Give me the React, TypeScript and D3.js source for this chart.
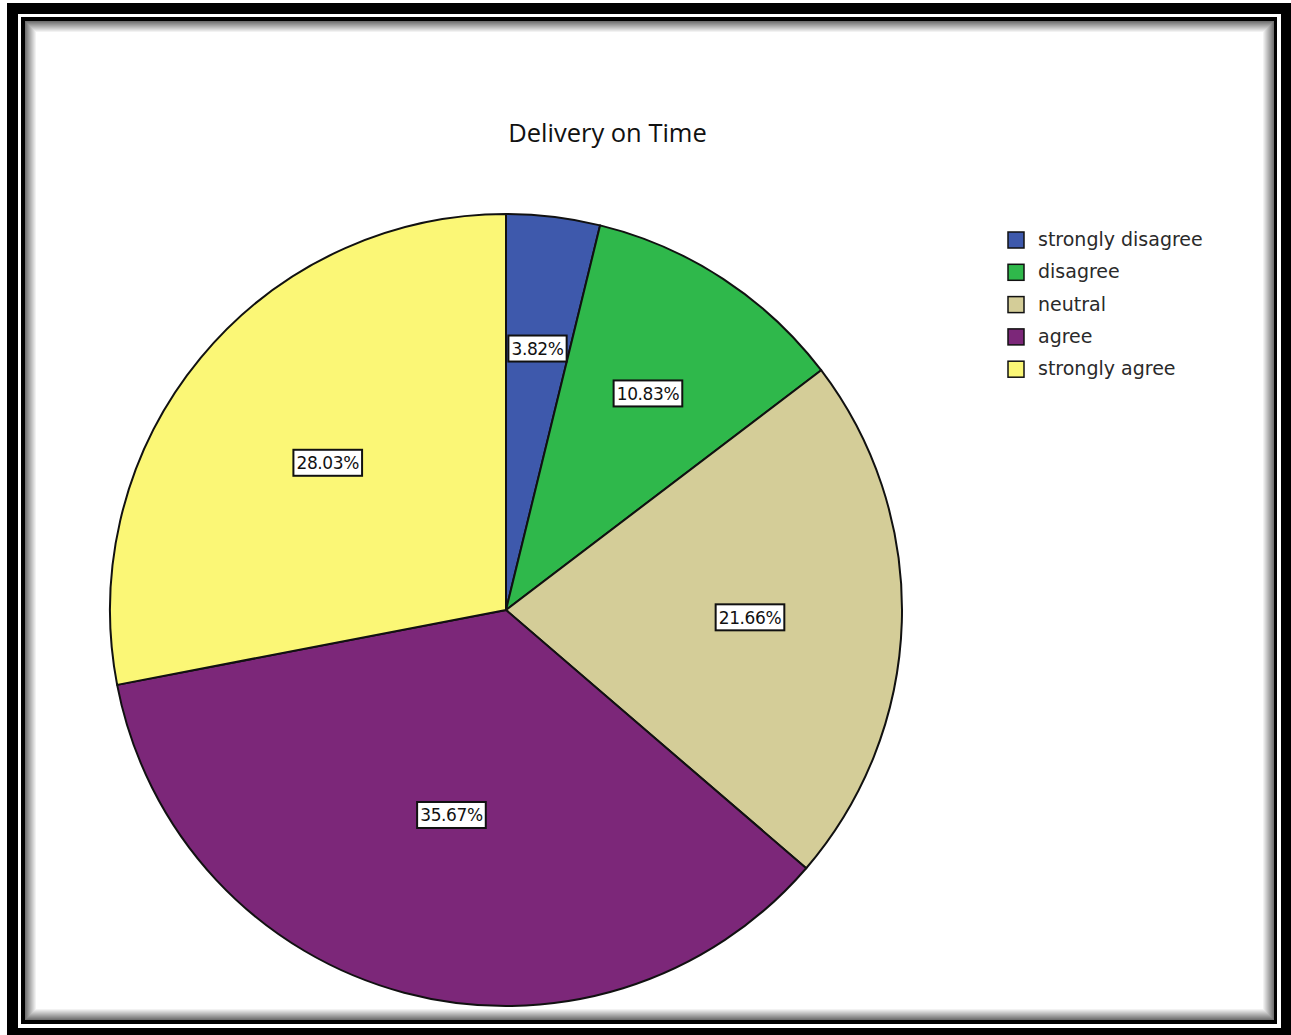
import React, { useEffect, useRef } from 'react';
import * as d3 from 'd3';

// slice data, clockwise from 12 o'clock
const categories = ['strongly disagree', 'disagree', 'neutral', 'agree', 'strongly agree'];
const percents = [3.82, 10.83, 21.66, 35.67, 28.03];
const colors = ['#3e59ac', '#2fb84b', '#d4cd98', '#7c2779', '#fbf776'];
const title = 'Delivery on Time';

const W = 1291;
const H = 1035;

function App() {
  const ref = useRef<SVGSVGElement>(null);

  useEffect(() => {
    const svg = d3.select(ref.current);
    svg.selectAll('*').remove();

    // frame: thick outer border, thin inner border, soft inner shadow
    svg.append('rect').attr('x', 7).attr('y', 3).attr('width', W - 7).attr('height', H - 3).attr('fill', '#000');
    svg.append('rect').attr('x', 18).attr('y', 14).attr('width', 1281 - 18).attr('height', 1028 - 14).attr('fill', '#fff');
    svg.append('rect').attr('x', 21).attr('y', 17).attr('width', 1277 - 21).attr('height', 1024 - 17).attr('fill', '#000');
    svg.append('rect').attr('x', 25).attr('y', 21).attr('width', 1274 - 25).attr('height', 1020 - 21).attr('fill', '#fff');
    var shade = d3.scaleLinear<string>().domain([0, 11]).range(['#707070', '#ffffff']);
    for (var i = 0; i < 11; i++) {
      svg.append('rect')
        .attr('x', 25.5 + i).attr('y', 21.5 + i)
        .attr('width', 1274 - 25 - 1 - 2 * i).attr('height', 1020 - 21 - 1 - 2 * i)
        .attr('fill', 'none').attr('stroke', shade(i)).attr('stroke-width', 1);
    }

    svg.append('text')
      .attr('x', 607.5).attr('y', 142)
      .attr('text-anchor', 'middle')
      .attr('font-family', 'Open Sans, sans-serif')
      .attr('font-size', 25.5)
      .attr('fill', '#111')
      .text(title);

    var cx = 506, cy = 610, radius = 396;
    var data = categories.map((c, k) => ({ name: c, value: percents[k], color: colors[k] }));

    var pie = d3.pie<any>().sort(null).value(d => d.value);
    var arc = d3.arc<any>().innerRadius(0).outerRadius(radius);
    var arcs = pie(data);

    var g = svg.append('g').attr('transform', `translate(${cx},${cy})`);
    g.selectAll('.slice')
      .data(arcs)
      .enter()
      .append('path')
      .attr('class', 'slice')
      .attr('d', arc)
      .attr('fill', d => d.data.color)
      .attr('stroke', '#111')
      .attr('stroke-width', 2)
      .attr('stroke-linejoin', 'round');

    // labels sit at the geometric centroid of each sector
    var labels = g.selectAll('.label')
      .data(arcs)
      .enter()
      .append('g')
      .attr('class', 'label')
      .attr('transform', d => {
        var half = (d.endAngle - d.startAngle) / 2;
        var mid = (d.endAngle + d.startAngle) / 2;
        var dist = (2 * radius * Math.sin(half)) / (3 * half);
        return `translate(${dist * Math.sin(mid)},${-dist * Math.cos(mid)})`;
      });

    labels.append('text')
      .attr('text-anchor', 'middle')
      .attr('dy', '0.37em')
      .attr('font-family', 'DejaVu Sans, sans-serif')
      .attr('font-size', 17)
      .attr('letter-spacing', -0.4)
      .attr('fill', '#111')
      .text(d => d.data.value.toFixed(2) + '%');

    labels.each(function () {
      var node = d3.select(this);
      var t = node.select('text').node() as SVGTextElement;
      var b = t.getBBox();
      node.insert('rect', 'text')
        .attr('x', -b.width / 2 - 3).attr('y', -13)
        .attr('width', b.width + 6).attr('height', 26)
        .attr('fill', '#fff').attr('stroke', '#111').attr('stroke-width', 2);
    });

    // legend
    var legend = svg.selectAll('.legend')
      .data(data)
      .enter()
      .append('g')
      .attr('class', 'legend')
      .attr('transform', (d, k) => `translate(1008,${232 + k * 32.3})`);

    legend.append('rect')
      .attr('width', 16).attr('height', 16)
      .attr('fill', d => d.color)
      .attr('stroke', '#111').attr('stroke-width', 1.5);

    legend.append('text')
      .attr('x', 30).attr('y', 14)
      .attr('font-family', 'DejaVu Sans, sans-serif')
      .attr('font-size', 19)
      .attr('fill', '#2a2a2a')
      .text(d => d.name);
  }, []);

  return (
    <svg ref={ref} width={W} height={H} style={{ position: 'absolute', left: 0, top: 0, background: '#fff' }}></svg>
  );
}

export default App;
